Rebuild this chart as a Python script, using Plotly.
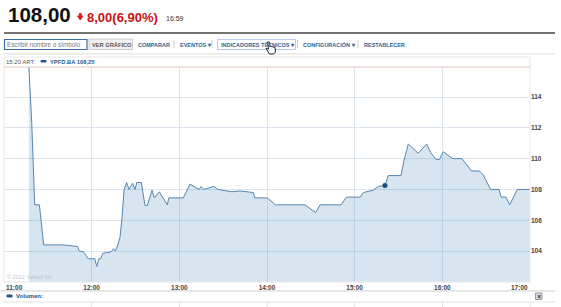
import plotly.graph_objects as go

minutes = [17.0,19,21,24.2,27.2,40.6,50.2,51.6,54.3,57.7,62.1,63.5,64.9,66.2,67.6,73.3,74.9,76.2,77.9,79.4,80.8,82.2,83.9,85.6,88,89.7,90.9,94,96.5,98.1,101.3,102.9,106.3,109.1,111.8,112.8,122.7,127.3,133.5,135,136.7,143.7,146.3,155.9,161.5,170.6,171.6,180.2,185.8,206,213.3,216.3,230.7,234.3,243.8,245.9,252.7,256.2,260.7,263,271.7,273.8,276.7,283.5,289.3,292,295.6,298,300.6,307.1,313.4,320,325.3,327.9,333.1,338.8,340.3,343.6,346.1,351.3,360]
prices = [116,112.3,107,107,104.4,104.4,104.3,104,103.95,103.5,103.5,103,103.5,103.5,103.85,103.95,104.15,104,104.4,104.9,106.2,108,108.45,108,108.4,108,108.45,108.45,106.95,106.95,107.95,107.45,107.85,107.45,107,107.45,107.45,108.35,108,108.2,108,108.2,108,107.85,107.9,107.8,107.45,107.45,107,107,106.5,107,107,107.5,107.5,107.8,107.95,108.2,108.25,108.9,108.9,109.9,110.95,110.35,110.95,110.4,109.95,109.95,110.45,110,110,109.2,109.2,108.95,108,108,107.5,107.5,107,108,108]
time_ticks = [60,120,180,240,300]
time_labels = ["12:00","13:00","14:00","15:00","16:00"]
price_ticks = [104,106,108,110,112,114]
marker_minute = [260.7]
marker_price = [108.25]

W, H = 561, 307
def px(x): return x / W
def py(y): return 1 - y / H

fig = go.Figure()
fig.add_trace(go.Scatter(x=minutes, y=prices, mode="lines", fill="tozeroy",
    fillcolor="rgba(60,130,185,0.21)", line=dict(color="#5686b0", width=1), hoverinfo="skip"))
fig.add_trace(go.Scatter(x=marker_minute, y=marker_price, mode="markers",
    marker=dict(color="#17507f", size=5), hoverinfo="skip"))

shapes = []
def line(x0, y0, x1, y1, color, width=1):
    shapes.append(dict(type="line", xref="paper", yref="paper", x0=px(x0), x1=px(x1), y0=py(y0), y1=py(y1),
                       line=dict(color=color, width=width), layer="above"))
def rect(x0, y0, x1, y1, lc, fill="rgba(0,0,0,0)", width=1):
    shapes.append(dict(type="rect", xref="paper", yref="paper", x0=px(x0), x1=px(x1), y0=py(y0), y1=py(y1),
                       line=dict(color=lc, width=width), fillcolor=fill, layer="above"))
def poly(points, lc, fill):
    d = "M " + " L ".join(f"{px(x):.5f} {py(y):.5f}" for x, y in points) + " Z"
    shapes.append(dict(type="path", xref="paper", yref="paper", layer="above", path=d,
                       line=dict(color=lc, width=1), fillcolor=fill))

line(4, 33, 555, 33, "#444444", 1.5)
line(4, 54, 555, 54, "#dddddd", 1)
rect(4.5, 39.5, 87, 49.5, "#3f6fa8", "#ffffff", 1.2)
rect(89, 39, 132.5, 49.5, "#cccccc", "#f1f1f1", 1)
rect(217.5, 39.5, 295.5, 49.5, "#b5cdea", "#ffffff", 1)
for x in [174, 212, 297.5, 358]:
    line(x, 40, x, 48, "#cccccc", 1)
rect(4, 57, 530, 282, "#e8e8e8", "rgba(0,0,0,0)", 1)
line(4, 67, 530, 67, "#e3c7bd", 1)
line(0, 291, 555, 291, "#d0d0d0", 1.2)
line(4, 302, 555, 302, "#e2e2e2", 1)
for x in [91.7, 179.4, 267.1, 354.8, 442.5, 530]:
    line(x, 302, x, 307, "#dbe3ec", 1)
rect(7, 295, 12, 297, "#1f5a92", "#1f5a92", 1)
rect(41, 60.5, 46, 62, "#1f5a92", "#1f5a92", 1)
rect(535.5, 293, 542, 299.5, "#999999", "#dddddd", 1)
poly([(77.5, 16), (79.3, 16), (79.3, 13.5), (81.2, 13.5), (81.2, 16), (83, 16), (80.2, 20)], "#cc2222", "#cc2222")
poly([(267.5, 42), (269.5, 42), (270, 46), (275, 47.5), (275.5, 52), (273.5, 54), (269.5, 54), (266, 48.5), (268.5, 49)],
     "#222222", "#ffffff")

def text(x, y, s, size, color, anchor="left", bold=False, fam="Liberation Sans"):
    return dict(xref="paper", yref="paper", x=px(x), y=py(y), text=f"<b>{s}</b>" if bold else s, showarrow=False,
                xanchor=anchor, yanchor="middle", font=dict(size=size, color=color, family=fam))

ann = [
    text(6, 14, "108,00", 20.5, "#111111", bold=True),
    text(85, 17, "8,00(6,90%)", 13, "#cc1111", bold=True),
    text(164, 18, "16:59", 7, "#333333"),
    text(5, 44.5, "Escribir nombre o símbolo", 6.3, "#777777"),
    text(90, 44.5, "VER GRÁFICO", 5.7, "#555555", bold=True),
    text(136, 44.5, "COMPARAR", 5.5, "#2a6496", bold=True),
    text(178, 44.5, "EVENTOS ▾", 5.5, "#2a6496", bold=True),
    text(218.5, 44.5, "INDICADORES TÉCNICOS ▾", 5.5, "#2a6496", bold=True),
    text(301, 44.5, "CONFIGURACIÓN ▾", 5.5, "#2a6496", bold=True),
    text(362, 44.5, "RESTABLECER", 5.5, "#2a6496", bold=True),
    text(4, 62, "15:20 ART:", 6, "#555555"),
    text(47.5, 62, "YPFD.BA 108,25", 5.8, "#1f5a92", bold=True),
    text(5, 277, "© 2012 Yahoo! Inc.", 5.5, "#bcc6cd"),
    text(4, 287, "11:00", 6.5, "#444444", bold=True),
    text(530, 287, "17:00", 6.5, "#444444", anchor="right", bold=True),
    text(14, 296, "Volumen:", 6, "#1f4f7a", bold=True),
    text(538.8, 296.2, "×", 7, "#333333", anchor="center", bold=True),
]

fig.update_layout(
    width=W, height=H, margin=dict(l=0, r=0, t=0, b=0), showlegend=False,
    paper_bgcolor="#ffffff", plot_bgcolor="#ffffff", shapes=shapes, annotations=ann,
    xaxis=dict(domain=[px(4), px(530)], range=[0, 360], tickmode="array", tickvals=time_ticks,
               ticktext=[f"<b>{t}</b>" for t in time_labels], showgrid=True, gridcolor="#dde4ee", gridwidth=1,
               zeroline=False, showline=False, ticks="", ticklen=0,
               tickfont=dict(size=6.5, color="#444444", family="Liberation Sans"), anchor="y"),
    yaxis=dict(domain=[py(282), py(67)], range=[101.99, 115.95], side="right", tickmode="array",
               tickvals=price_ticks, showgrid=True, gridcolor="#dde4ee", gridwidth=1, zeroline=False,
               showline=False, ticks="", tickfont=dict(size=6.5, color="#444444", family="Liberation Sans"),
               ticktext=[f"<b>{p}</b>" for p in price_ticks], anchor="x"),
)
fig.write_html("out.html", post_script="document.body.style.margin='0';", config=dict(displayModeBar=False))
